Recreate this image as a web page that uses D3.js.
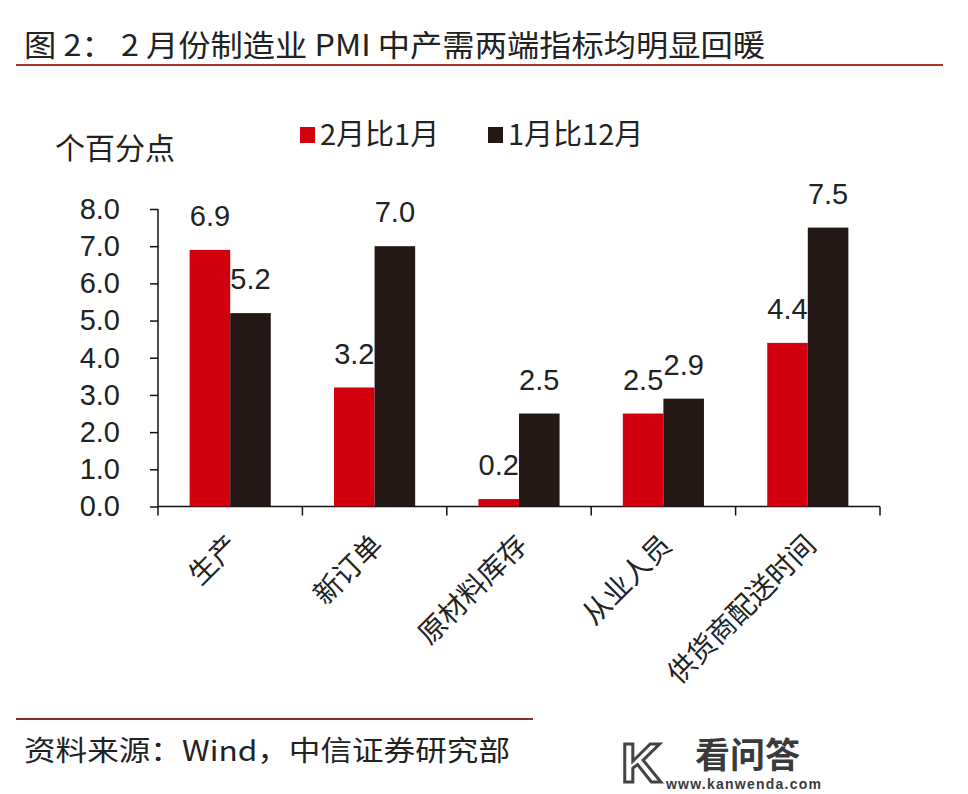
<!DOCTYPE html>
<meta charset="utf-8">
<style>
body { margin: 0; background: #fff; }
text { font-family: "Liberation Sans", Arial, "Noto Sans CJK SC", sans-serif; fill: #222; }
.cjk { font-family: "Noto Sans CJK SC", sans-serif; }
</style>
<body>
<script src="https://cdnjs.cloudflare.com/ajax/libs/d3/7.8.5/d3.min.js"></script>
<script>

// data
var categories = ["生产", "新订单", "原材料库存", "从业人员", "供货商配送时间"];
var seriesNames = ["2月比1月", "1月比12月"];
var febVsJan = [6.9, 3.2, 0.2, 2.5, 4.4];
var janVsDec = [5.2, 7.0, 2.5, 2.9, 7.5];
var yTicks = [0, 1, 2, 3, 4, 5, 6, 7, 8];

var colors = ["#d2000e", "#231815"];

var W = 968, H = 794;
var svg = d3.select("body").append("svg")
    .attr("width", W)
    .attr("height", H);

// title
svg.append("text")
    .attr("class", "cjk")
    .attr("x", 24).attr("y", 56)
    .attr("font-size", 30)
    .attr("textLength", 741)
    .attr("lengthAdjust", "spacingAndGlyphs")
    .text("图 2：  2 月份制造业 PMI 中产需两端指标均明显回暖");

svg.append("line")
    .attr("x1", 16).attr("x2", 943)
    .attr("y1", 65).attr("y2", 65)
    .attr("stroke", "#a8322a").attr("stroke-width", 2);

// scales
var x0 = d3.scaleBand()
    .domain(categories)
    .range([158, 880]);

var x1 = d3.scaleBand()
    .domain(seriesNames)
    .range([0, x0.bandwidth()])
    .paddingOuter(0.78);

var y = d3.scaleLinear()
    .domain([0, 8])
    .range([506.5, 209]);

// y axis
var yAxis = svg.append("g")
    .attr("transform", "translate(158,0)")
    .call(d3.axisLeft(y).tickValues(yTicks).tickSize(8).tickPadding(30)
        .tickFormat(d3.format(".1f")));
yAxis.selectAll("text").attr("font-size", 29).attr("fill", "#222")
    .attr("font-family", "Liberation Sans, Arial, sans-serif");
yAxis.selectAll("line,path").attr("stroke", "#111").attr("stroke-width", 1.5);
yAxis.select(".domain").attr("d", "M0," + y(8) + "V" + y(0));

// x axis line and ticks at band edges
var edges = categories.map(function(c) { return x0(c); }).concat([x0.range()[1]]);
svg.append("line")
    .attr("x1", 158).attr("x2", 880)
    .attr("y1", y(0)).attr("y2", y(0))
    .attr("stroke", "#111").attr("stroke-width", 1.5);
svg.selectAll(".xtick")
    .data(edges)
    .enter().append("line")
    .attr("x1", function(d) { return d; })
    .attr("x2", function(d) { return d; })
    .attr("y1", y(0)).attr("y2", y(0) + 9)
    .attr("stroke", "#111").attr("stroke-width", 1.5);

// bars
var rows = categories.map(function(c, i) {
  return { cat: c, vals: [febVsJan[i], janVsDec[i]] };
});

var groups = svg.selectAll(".grp")
    .data(rows)
    .enter().append("g")
    .attr("transform", function(d) { return "translate(" + x0(d.cat) + ",0)"; });

groups.selectAll("rect")
    .data(function(d) { return d.vals.map(function(v, j) { return { s: seriesNames[j], v: v, j: j }; }); })
    .enter().append("rect")
    .attr("x", function(d) { return x1(d.s); })
    .attr("width", x1.bandwidth())
    .attr("y", function(d) { return y(d.v); })
    .attr("height", function(d) { return y(0) - y(d.v); })
    .attr("fill", function(d) { return colors[d.j]; });

groups.selectAll(".val")
    .data(function(d) { return d.vals.map(function(v, j) { return { s: seriesNames[j], v: v }; }); })
    .enter().append("text")
    .attr("x", function(d) { return x1(d.s) + x1.bandwidth() / 2; })
    .attr("y", function(d) { return y(d.v) - 24; })
    .attr("text-anchor", "middle")
    .attr("font-size", 29)
    .text(function(d) { return d3.format(".1f")(d.v); });

// category labels
svg.selectAll(".cat")
    .data(categories)
    .enter().append("text")
    .attr("class", "cjk")
    .attr("transform", function(d) {
      return "translate(" + (x0(d) + x0.bandwidth() / 2 + 3) + ",540) rotate(-45)";
    })
    .attr("text-anchor", "end")
    .attr("dy", "0.35em")
    .attr("font-size", 28)
    .text(function(d) { return d; });

// unit label
svg.append("text")
    .attr("class", "cjk")
    .attr("x", 55).attr("y", 159)
    .attr("font-size", 30)
    .text("个百分点");

// legend
var legend = svg.selectAll(".leg")
    .data(seriesNames)
    .enter().append("g")
    .attr("transform", function(d, i) { return "translate(" + [300, 488][i] + ",127)"; });
legend.append("rect")
    .attr("width", 15).attr("height", 16)
    .attr("fill", function(d, i) { return colors[i]; });
legend.append("text")
    .attr("class", "cjk")
    .attr("x", 20).attr("y", 8)
    .attr("dy", "0.36em")
    .attr("font-size", 29)
    .text(function(d) { return d; });

// footer
svg.append("line")
    .attr("x1", 16).attr("x2", 533)
    .attr("y1", 719).attr("y2", 719)
    .attr("stroke", "#8a2e28").attr("stroke-width", 2);
svg.append("text")
    .attr("class", "cjk")
    .attr("x", 24).attr("y", 761)
    .attr("font-size", 28)
    .attr("textLength", 486)
    .attr("lengthAdjust", "spacingAndGlyphs")
    .text("资料来源：Wind，中信证券研究部");

// watermark
svg.append("text")
    .attr("x", 621).attr("y", 782)
    .attr("font-size", 56).attr("font-weight", "bold")
    .style("fill", "#fff").attr("stroke", "#444").attr("stroke-width", 3)
    .text("K");
svg.append("text")
    .attr("class", "cjk")
    .attr("x", 695).attr("y", 768)
    .attr("font-size", 35).attr("font-weight", "bold")
    .attr("textLength", 105)
    .style("fill", "#3a3a3a")
    .text("看问答");
svg.append("text")
    .attr("x", 666).attr("y", 789)
    .attr("font-size", 14).attr("font-weight", "bold")
    .attr("textLength", 155)
    .style("fill", "#3a3a3a")
    .text("www.kanwenda.com");

</script>
</body>
